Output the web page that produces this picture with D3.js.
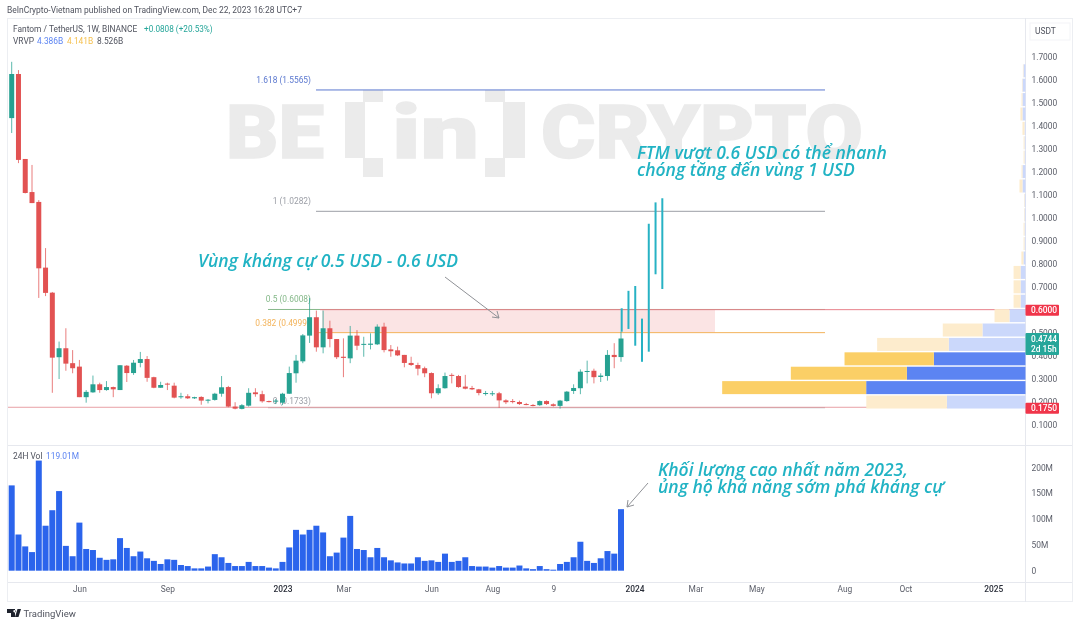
<!DOCTYPE html>
<html>
<head>
<meta charset="utf-8">
<script src="https://cdnjs.cloudflare.com/ajax/libs/d3/7.8.5/d3.min.js"></script>
<style>
    html, body { margin: 0; padding: 0; background: #fff; }
    svg { display: block; filter: blur(0.35px); }
    text { font-family: Roboto, "Open Sans", sans-serif; }
    .note { font-family: "Open Sans", sans-serif; font-style: italic; font-weight: 600; font-size: 17.5px; fill: #21b3c4; }
    .mark { font-family: Roboto, sans-serif; font-weight: 900; font-size: 75px; fill: #ebebeb; stroke: #ebebeb; stroke-width: 1.5px; }
    .axis text { font-size: 8.4px; fill: #5d606b; }
    .axis path, .axis line { display: none; }
</style>
</head>
<body>
<div id="chart"></div>
<script>
// weekly candles
const candleOpen = [1.434,1.626,1.256,1.112,1.069,0.783,0.674,0.393,0.432,0.367,0.352,0.219,0.240,0.275,0.250,0.263,0.250,0.356,0.324,0.368,0.385,0.306,0.260,0.278,0.269,0.220,0.223,0.214,0.220,0.205,0.207,0.234,0.263,0.178,0.168,0.182,0.240,0.232,0.202,0.202,0.195,0.234,0.323,0.375,0.487,0.567,0.436,0.519,0.472,0.395,0.388,0.487,0.447,0.447,0.449,0.526,0.427,0.423,0.403,0.368,0.359,0.345,0.324,0.236,0.258,0.316,0.311,0.265,0.259,0.253,0.234,0.233,0.236,0.205,0.202,0.198,0.189,0.185,0.184,0.202,0.188,0.181,0.202,0.246,0.258,0.330,0.334,0.307,0.311,0.403,0.3936];
const candleHigh = [1.679,1.643,1.256,1.230,1.077,0.868,0.677,0.461,0.519,0.424,0.381,0.250,0.313,0.282,0.289,0.265,0.359,0.359,0.381,0.416,0.398,0.308,0.286,0.282,0.282,0.238,0.232,0.221,0.223,0.211,0.238,0.311,0.268,0.197,0.189,0.258,0.258,0.247,0.204,0.211,0.238,0.352,0.403,0.494,0.651,0.596,0.596,0.552,0.472,0.475,0.529,0.511,0.482,0.497,0.536,0.543,0.446,0.439,0.403,0.395,0.369,0.352,0.327,0.275,0.326,0.323,0.316,0.316,0.268,0.255,0.246,0.246,0.242,0.210,0.211,0.204,0.194,0.189,0.205,0.205,0.192,0.207,0.246,0.275,0.340,0.378,0.343,0.323,0.424,0.454,0.504];
const candleLow = [1.369,1.238,1.106,1.064,0.651,0.659,0.238,0.298,0.334,0.323,0.219,0.195,0.238,0.238,0.247,0.219,0.250,0.285,0.316,0.349,0.286,0.258,0.260,0.250,0.214,0.212,0.211,0.211,0.186,0.192,0.204,0.221,0.175,0.166,0.166,0.178,0.221,0.195,0.196,0.189,0.185,0.233,0.282,0.367,0.455,0.417,0.410,0.436,0.385,0.306,0.367,0.424,0.395,0.427,0.446,0.414,0.395,0.398,0.349,0.355,0.314,0.306,0.214,0.229,0.256,0.279,0.260,0.253,0.250,0.227,0.226,0.224,0.172,0.189,0.192,0.185,0.184,0.179,0.181,0.185,0.178,0.169,0.199,0.233,0.232,0.279,0.279,0.285,0.291,0.345,0.373];
const candleClose = [1.626,1.252,1.108,1.064,0.780,0.673,0.391,0.432,0.365,0.345,0.219,0.242,0.275,0.250,0.263,0.253,0.358,0.324,0.369,0.385,0.303,0.260,0.272,0.275,0.217,0.223,0.214,0.219,0.204,0.208,0.234,0.262,0.178,0.169,0.184,0.238,0.232,0.201,0.199,0.204,0.234,0.324,0.378,0.488,0.567,0.436,0.519,0.472,0.393,0.390,0.487,0.443,0.451,0.452,0.526,0.424,0.419,0.401,0.368,0.359,0.343,0.323,0.236,0.258,0.311,0.313,0.263,0.256,0.253,0.237,0.237,0.236,0.205,0.197,0.198,0.189,0.186,0.182,0.202,0.189,0.181,0.204,0.243,0.259,0.330,0.333,0.306,0.313,0.403,0.3936,0.4744];
const volume = [165,70,47,36,213,87,117,154,48,28,93,42,40,25,21,22,63,44,28,37,24,19,13,22,21,11,9,4.5,4.5,8,32,26,15,9,9,17,9,9,6,4.5,17,45,79,70,79,87,74,28,35,64,106,42,40,26,44,26,20,16,14,14,26,19,20,17,33,17,19,26,9,8,8,6,9,6,6,10,4.5,3,9,3,2,13,17,26,56,19,15,24,38,33,119];

// drawn projection bars after the last candle
const projWeek = [90,91,92,93,94,95,96];
const projLow = [0.504,0.516,0.443,0.373,0.417,0.754,0.690];
const projHigh = [0.606,0.682,0.703,0.561,0.974,1.067,1.085];

// visible range volume profile, billions, bottom bin first
const binBase = 0.1665;
const binStep = 0.0627;
const vpUp = [0.574,1.163,0.866,0.669,0.560,0.314,0.117,0.036,0.036,0.036,0.015,0.007,0.007,0.007,0.007,0.022,0.022,0.007,0.007,0.007,0.022,0.022,0.022,0.015];
const vpDown = [0.588,1.051,0.847,0.652,0.523,0.290,0.109,0.051,0.051,0.051,0.015,0.007,0.007,0.004,0.004,0.022,0.007,0.007,0.007,0.015,0.015,0.007,0.004,0.004];
const vpStrong = [1,2,3];

// axis ticks
const priceTicks = [0.1,0.2,0.3,0.4,0.5,0.6,0.7,0.8,0.9,1.0,1.1,1.2,1.3,1.4,1.5,1.6,1.7];
const volTicks = [0,50,100,150,200];
const timeTickDates = ["2022-06-06","2022-09-05","2023-01-02","2023-03-06","2023-06-05","2023-08-07","2023-10-09","2024-01-01","2024-03-04","2024-05-06","2024-08-05","2024-10-07","2025-01-06"];
const timeTickLabels = ["Jun","Sep","2023","Mar","Jun","Aug","9","2024","Mar","May","Aug","Oct","2025"];

const fibLabels = ["1.618 (1.5565)","1 (1.0282)","0.5 (0.6008)","0.382 (0.4999","0 (0.1733)"];
const fibPrices = [1.5565,1.0282,0.6008,0.4999,0.1733];
const fibColors = ["#5b78cf","#9b9ea6","#86b98a","#f3b35a","#9b9ea6"];

const width = 1080, height = 626;
const plotRight = 1025.5;

const svg = d3.select("#chart").append("svg")
    .attr("width", width)
    .attr("height", height);

const weeks = d3.utcMonday.range(new Date(Date.UTC(2022, 2, 28)), new Date(Date.UTC(2024, 0, 30)));

const x = d3.scaleUtc().domain([weeks[0], weeks[90]]).range([11.7, 621]);
const y = d3.scaleLinear().domain([0.1, 1.7]).range([424.5, 57]);
const yVol = d3.scaleLinear().domain([0, 200]).range([570.7, 467.3]);
const vpWidth = d3.scaleLinear().domain([0, 1]).range([0, 137]);

// frame
svg.append("rect").attr("x", 7.5).attr("y", 18.5).attr("width", 1065).attr("height", 583)
    .attr("fill", "none").attr("stroke", "#eceef2");
svg.append("line").attr("x1", 8).attr("x2", 1072).attr("y1", 445.5).attr("y2", 445.5).attr("stroke", "#e6e8ee");
svg.append("line").attr("x1", 8).attr("x2", 1072).attr("y1", 582.5).attr("y2", 582.5).attr("stroke", "#e6e8ee");
svg.append("line").attr("x1", plotRight).attr("x2", plotRight).attr("y1", 18).attr("y2", 602).attr("stroke", "#e6e8ee");

// watermark
const mark = svg.append("g");
mark.append("text").attr("class", "mark").attr("x", 226).attr("y", 158).attr("textLength", 98).attr("lengthAdjust", "spacingAndGlyphs").text("BE");
mark.append("text").attr("class", "mark").attr("x", 392).attr("y", 158).attr("textLength", 87).attr("lengthAdjust", "spacingAndGlyphs").text("in");
mark.append("text").attr("class", "mark").attr("x", 541).attr("y", 158).attr("textLength", 322).attr("lengthAdjust", "spacingAndGlyphs").text("CRYPTO");
mark.append("path").attr("fill", "#ebebeb")
    .attr("d", "M363 90h20v12h-18v56h18v19h-20v-19h-18v-56h18z M485 90h20v12h20v56h-20v19h-20v-19h18v-56h-18z");

// resistance zone
svg.append("rect")
    .attr("x", 322).attr("width", 393)
    .attr("y", y(fibPrices[2])).attr("height", y(fibPrices[3]) - y(fibPrices[2]))
    .attr("fill", "#fbe4e4");

// fib levels
const fibStart = [316, 316, 268, 316, 268];
fibPrices.forEach((p, i) => {
    svg.append("line")
        .attr("x1", fibStart[i]).attr("x2", 825)
        .attr("y1", y(p)).attr("y2", y(p))
        .attr("stroke", fibColors[i]).attr("stroke-width", 1);
    svg.append("text")
        .attr("x", i === 3 ? 307 : 311).attr("y", y(p) - (i === 4 ? 4 : 7))
        .attr("text-anchor", "end")
        .attr("font-size", 8.4)
        .attr("fill", fibColors[i])
        .text(fibLabels[i]);
});

// price lines
svg.append("line").attr("x1", 320).attr("x2", plotRight).attr("y1", y(0.6)).attr("y2", y(0.6)).attr("stroke", "#e8808a");
svg.append("line").attr("x1", 8).attr("x2", plotRight).attr("y1", y(0.175)).attr("y2", y(0.175)).attr("stroke", "#e8a0a6");

// volume profile
const vp = svg.append("g").selectAll("g")
    .data(vpUp.map((up, i) => ({ i: i, up: up, down: vpDown[i] })))
    .join("g");
vp.append("rect")
    .attr("x", d => plotRight - vpWidth(d.up))
    .attr("width", d => vpWidth(d.up))
    .attr("y", d => y(binBase + (d.i + 1) * binStep) + 0.7)
    .attr("height", d => y(binBase + d.i * binStep) - y(binBase + (d.i + 1) * binStep) - 1.4)
    .attr("fill", d => vpStrong.includes(d.i) ? "#5c84f2" : "#cbd8fb");
vp.append("rect")
    .attr("x", d => plotRight - vpWidth(d.up + d.down))
    .attr("width", d => vpWidth(d.down))
    .attr("y", d => y(binBase + (d.i + 1) * binStep) + 0.7)
    .attr("height", d => y(binBase + d.i * binStep) - y(binBase + (d.i + 1) * binStep) - 1.4)
    .attr("fill", d => vpStrong.includes(d.i) ? "#fbcf66" : "#fdeccd");

// candles
const candles = weeks.slice(0, candleOpen.length).map((w, i) => ({
    date: w, open: candleOpen[i], high: candleHigh[i], low: candleLow[i], close: candleClose[i]
}));
const candleColor = d => d.close >= d.open ? "#26a191" : "#e25252";

svg.append("g").selectAll("line")
    .data(candles)
    .join("line")
    .attr("x1", d => x(d.date)).attr("x2", d => x(d.date))
    .attr("y1", d => y(d.high)).attr("y2", d => y(d.low))
    .attr("stroke", candleColor)
    .attr("stroke-opacity", 0.75)
    .attr("stroke-width", 1);

svg.append("g").selectAll("rect")
    .data(candles)
    .join("rect")
    .attr("x", d => x(d.date) - 2.5)
    .attr("width", 5)
    .attr("y", d => y(Math.max(d.open, d.close)))
    .attr("height", d => Math.max(1, Math.abs(y(d.open) - y(d.close))))
    .attr("fill", candleColor);

// projection bars
svg.append("g").selectAll("line")
    .data(projWeek)
    .join("line")
    .attr("x1", (w) => x(weeks[w]) + 0.7).attr("x2", (w) => x(weeks[w]) + 0.7)
    .attr("y1", (w, i) => y(projHigh[i])).attr("y2", (w, i) => y(projLow[i]))
    .attr("stroke", "#27b2c4")
    .attr("stroke-width", 2);

// volume bars
svg.append("g").selectAll("rect")
    .data(volume)
    .join("rect")
    .attr("x", (d, i) => x(weeks[i]) - 3)
    .attr("width", 6)
    .attr("y", d => yVol(d))
    .attr("height", d => yVol(0) - yVol(d))
    .attr("fill", "#2b64ec");

// axes
svg.append("g")
    .attr("class", "axis")
    .attr("transform", `translate(${plotRight},0)`)
    .call(d3.axisRight(y).tickValues(priceTicks).tickFormat(d3.format(".4f")).tickSize(0).tickPadding(6));

svg.append("g")
    .attr("class", "axis")
    .attr("transform", `translate(${plotRight},0)`)
    .call(d3.axisRight(yVol).tickValues(volTicks).tickFormat(d => d === 0 ? "0" : d + "M").tickSize(0).tickPadding(6));

svg.append("g")
    .attr("class", "axis time-axis")
    .attr("transform", "translate(0,586)")
    .call(d3.axisBottom(x)
        .tickValues(timeTickDates.map(d => new Date(d)))
        .tickFormat((d, i) => timeTickLabels[i])
        .tickSize(0).tickPadding(0));
svg.selectAll(".time-axis text")
    .attr("font-weight", (d, i) => /^20/.test(timeTickLabels[i]) ? 500 : 400)
    .style("fill", (d, i) => /^20/.test(timeTickLabels[i]) ? "#2a2e39" : "#5d606b");

// price tags
function tag(top, h, color, lines) {
    svg.append("rect").attr("x", plotRight).attr("y", top).attr("width", 33.5).attr("height", h).attr("rx", 1).attr("fill", color);
    lines.forEach((t, i) => {
        svg.append("text").attr("x", plotRight + 5.5).attr("y", top + 8.6 + i * 10)
            .attr("font-size", 8.4).attr("font-weight", 500).attr("fill", "#fff").text(t);
    });
}
tag(y(0.6) - 5, 11, "#f0354a", ["0.6000"]);
tag(y(0.4744) - 5.5, 22, "#26a69a", ["0.4744", "2d 15h"]);
tag(y(0.175) - 4.5, 11, "#f0354a", ["0.1750"]);

// USDT box
svg.append("rect").attr("x", 1030).attr("y", 23).attr("width", 40).attr("height", 17).attr("fill", "none").attr("stroke", "#f3f4f7");
svg.append("text").attr("x", 1035).attr("y", 34).attr("font-size", 8.4).attr("fill", "#50535e").text("USDT");

// header
svg.append("text").attr("x", 7).attr("y", 13).attr("font-size", 8.45).attr("fill", "#50535e")
    .text("BeInCrypto-Vietnam published on TradingView.com, Dec 22, 2023 16:28 UTC+7");
svg.append("text").attr("x", 13).attr("y", 32).attr("font-size", 8.4).attr("fill", "#50535e")
    .text("Fantom / TetherUS, 1W, BINANCE");
svg.append("text").attr("x", 144).attr("y", 32).attr("font-size", 8.2).attr("fill", "#26a69a")
    .text("+0.0808 (+20.53%)");
const vrvp = [["VRVP", 13, "#50535e"], ["4.386B", 37, "#5c84f2"], ["4.141B", 67, "#f5c04e"], ["8.526B", 97, "#50535e"]];
vrvp.forEach(v => {
    svg.append("text").attr("x", v[1]).attr("y", 44).attr("font-size", 8.4).attr("fill", v[2]).text(v[0]);
});
svg.append("text").attr("x", 13).attr("y", 459).attr("font-size", 8.4).attr("fill", "#50535e").text("24H Vol");
svg.append("text").attr("x", 46).attr("y", 459).attr("font-size", 8.4).attr("fill", "#5c84f2").text("119.01M");

// annotations
svg.append("text").attr("class", "note").attr("x", 198).attr("y", 266.7).text("Vùng kháng cự 0.5 USD - 0.6 USD");
svg.append("text").attr("class", "note").attr("x", 637).attr("y", 159).text("FTM vượt 0.6 USD có thể nhanh");
svg.append("text").attr("class", "note").attr("x", 637).attr("y", 176).text("chóng tăng đến vùng 1 USD");
svg.append("text").attr("class", "note").attr("x", 658).attr("y", 476).text("Khối lượng cao nhất năm 2023,");
svg.append("text").attr("class", "note").attr("x", 658).attr("y", 492.7).text("ủng hộ khả năng sớm phá kháng cự");

svg.append("path").attr("fill", "none").attr("stroke", "#8f9196").attr("stroke-width", 1)
    .attr("d", "M445 277L499 318M492 317L499 318L497 311");
svg.append("path").attr("fill", "none").attr("stroke", "#8f9196").attr("stroke-width", 1)
    .attr("d", "M648 483L627 507M628 500L627 507L634 505");

// TradingView logo and name
svg.append("path").attr("fill", "#1e222d")
    .attr("d", "M7 609h8v8h-4v-4h-4z M17.5 609h3.5l-2.5 8h-3.5z M14.5 610a1.2 1.2 0 1 0 .01 0z");
svg.append("text").attr("x", 23.5).attr("y", 617).attr("font-size", 9.5).attr("fill", "#50535e").text("TradingView");
</script>
</body>
</html>
